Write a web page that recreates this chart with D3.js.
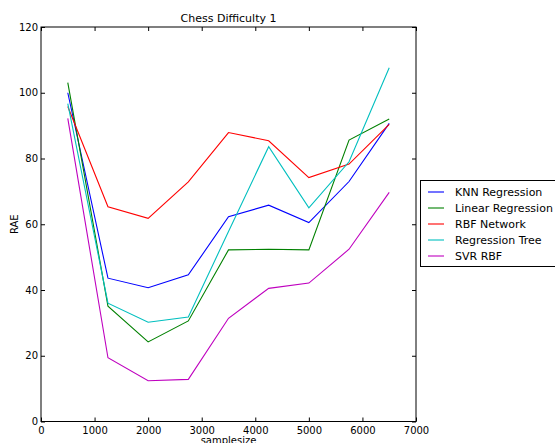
<!DOCTYPE html>
<html><head><meta charset="utf-8">
<script src="https://cdn.jsdelivr.net/npm/d3@7"></script>
<style>
body{margin:0;background:#fff;}
svg{display:block;font-family:"DejaVu Sans",sans-serif;}
</style></head>
<body><svg id="c" width="555" height="443"></svg>
<script>
const sampleSizes = [500,1250,2000,2750,3500,4250,5000,5750,6500];
const seriesNames = ["KNN Regression","Linear Regression","RBF Network","Regression Tree","SVR RBF"];
const knn    = [100.0,43.6,40.7,44.6,62.3,65.8,60.5,73.0,90.7];
const linear = [103.1,35.1,24.2,30.6,52.2,52.4,52.2,85.6,92.0];
const rbf    = [95.8,65.3,61.8,72.9,87.9,85.4,74.2,78.3,90.4];
const tree   = [96.7,36.0,30.2,31.8,57.8,83.6,65.0,79.0,107.6];
const svr    = [92.2,19.4,12.4,12.8,31.4,40.5,42.1,52.4,69.7];
const colors = ["#0000ff","#008000","#ff0000","#00bfbf","#bf00bf"];
const xTicks = [0,1000,2000,3000,4000,5000,6000,7000];
const yTicks = [0,20,40,60,80,100,120];

const allSeries = [knn,linear,rbf,tree,svr];
const svg = d3.select("#c");
const L=41,R=416,T=27,B=421.5;
const x = d3.scaleLinear().domain([0,7000]).range([L,R]);
const y = d3.scaleLinear().domain([0,120]).range([B,T]);

// lines
const line = d3.line().x((d,i)=>x(sampleSizes[i])).y(d=>y(d));
allSeries.forEach((s,k)=>{
  svg.append("path").attr("d",line(s)).attr("fill","none")
     .attr("stroke",colors[k]).attr("stroke-width",1.1);
});

// frame
svg.append("rect").attr("x",L).attr("y",T).attr("width",R-L).attr("height",B-T)
   .attr("fill","none").attr("stroke","#000").attr("stroke-width",1);

// axes (ticks inward)
const fs = "10px";
const xb = svg.append("g").attr("transform",`translate(0,${B})`)
  .call(d3.axisBottom(x).tickValues(xTicks).tickSize(-4).tickPadding(6).tickFormat(d3.format("d")));
const xt = svg.append("g").attr("transform",`translate(0,${T})`)
  .call(d3.axisTop(x).tickValues(xTicks).tickSize(-4).tickFormat(""));
const yl = svg.append("g").attr("transform",`translate(${L},0)`)
  .call(d3.axisLeft(y).tickValues(yTicks).tickSize(-4).tickPadding(6).tickFormat(d3.format("d")));
const yr = svg.append("g").attr("transform",`translate(${R},0)`)
  .call(d3.axisRight(y).tickValues(yTicks).tickSize(-4).tickFormat(""));
[xb,xt,yl,yr].forEach(g=>{
  g.select(".domain").remove();
  g.selectAll("text").attr("font-family","DejaVu Sans").attr("font-size",fs).attr("fill","#000");
  g.selectAll("line").attr("stroke","#000");
});
xb.selectAll("text").attr("dy","0.71em").attr("y",5);
yl.selectAll("text").attr("x",-3);

// title and labels
svg.append("text").attr("x",(L+R)/2).attr("y",22).attr("text-anchor","middle")
   .attr("font-size","11px").text("Chess Difficulty 1");
svg.append("text").attr("x",(L+R)/2).attr("y",444).attr("text-anchor","middle")
   .attr("font-size","10px").text("samplesize");
svg.append("text").attr("transform",`translate(18,${(T+B)/2}) rotate(-90)`)
   .attr("text-anchor","middle").attr("font-size","10px").text("RAE");

// legend
const lg = svg.append("g");
lg.append("rect").attr("x",420.5).attr("y",180.5).attr("width",150).attr("height",86)
  .attr("fill","#fff").attr("stroke","#000").attr("stroke-width",1);
seriesNames.forEach((n,k)=>{
  const yy = 192 + k*16;
  lg.append("line").attr("x1",428).attr("x2",444).attr("y1",yy).attr("y2",yy)
    .attr("stroke",colors[k]).attr("stroke-width",1.1);
  lg.append("text").attr("x",455).attr("y",yy+4).attr("font-size","11px").text(n);
});
</script></body></html>
